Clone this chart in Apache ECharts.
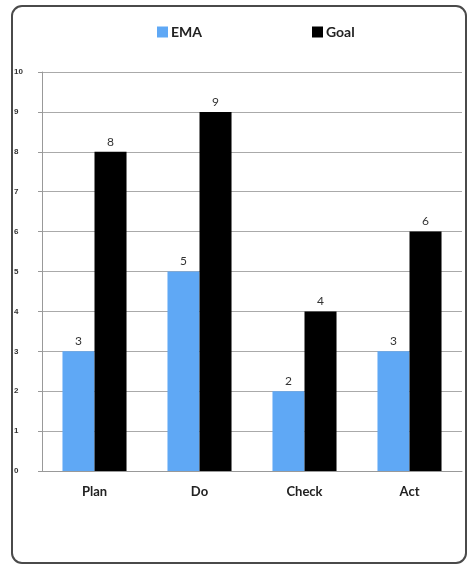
<!DOCTYPE html>
<html>
<head>
<meta charset="utf-8">
<script src="https://cdn.jsdelivr.net/npm/echarts@6/dist/echarts.min.js"></script>
<style>
  * { margin: 0; padding: 0; }
  html, body { background: #fff; }
</style>
</head>
<body>
<!-- chart container -->
<div id="main" style="width: 470px;height: 569px;"></div>
<script>
    var categories = ['Plan', 'Do', 'Check', 'Act'];
    var emaValues = [3, 5, 2, 3];
    var goalValues = [8, 9, 4, 6];

    var chart = echarts.init(document.getElementById('main'));
    chart.setOption({
        animation: false,
        graphic: [{
            type: 'rect',
            shape: { x: 12, y: 6, width: 454, height: 557, r: 10 },
            style: { fill: 'none', stroke: '#4a4a4a', lineWidth: 2 },
            z: -1
        }],
        legend: [
            {
                data: ['EMA'], left: 152, top: 20, icon: 'rect',
                itemWidth: 11, itemHeight: 11, itemGap: 4,
                textStyle: { fontFamily: 'Lato', fontWeight: 'bold', fontSize: 14, color: '#222', padding: [0, 0, 0, -2] }
            },
            {
                data: ['Goal'], left: 307, top: 20, icon: 'rect',
                itemWidth: 11, itemHeight: 11, itemGap: 4,
                textStyle: { fontFamily: 'Lato', fontWeight: 'bold', fontSize: 14, color: '#222', padding: [0, 0, 0, -2] }
            }
        ],
        grid: { left: 42, right: 8, top: 72, bottom: 98 },
        xAxis: {
            type: 'category',
            data: categories,
            axisLine: { lineStyle: { color: '#999' } },
            axisTick: { length: 5, lineStyle: { color: '#999' } },
            axisLabel: { fontFamily: 'Lato', fontWeight: 'bold', fontSize: 13, color: '#222', margin: 14 }
        },
        yAxis: {
            type: 'value',
            min: 0, max: 10, interval: 1,
            axisLine: { show: true, lineStyle: { color: '#999' } },
            axisTick: { show: true, length: 4, lineStyle: { color: '#999' } },
            axisLabel: { fontSize: 8, fontWeight: 'bold', color: '#333', margin: 28, align: 'left' },
            splitLine: { lineStyle: { color: '#aaa' } }
        },
        series: [
            {
                name: 'EMA', type: 'bar', data: emaValues,
                itemStyle: { color: '#5fa8f5' },
                barGap: '0%', barCategoryGap: '39%',
                label: { show: true, position: 'top', fontFamily: 'Lato', fontSize: 12, color: '#333', distance: 4 }
            },
            {
                name: 'Goal', type: 'bar', data: goalValues,
                itemStyle: { color: '#000' },
                barGap: '0%', barCategoryGap: '39%',
                label: { show: true, position: 'top', fontFamily: 'Lato', fontSize: 12, color: '#333', distance: 4 }
            }
        ]
    });
</script>
</body>
</html>
